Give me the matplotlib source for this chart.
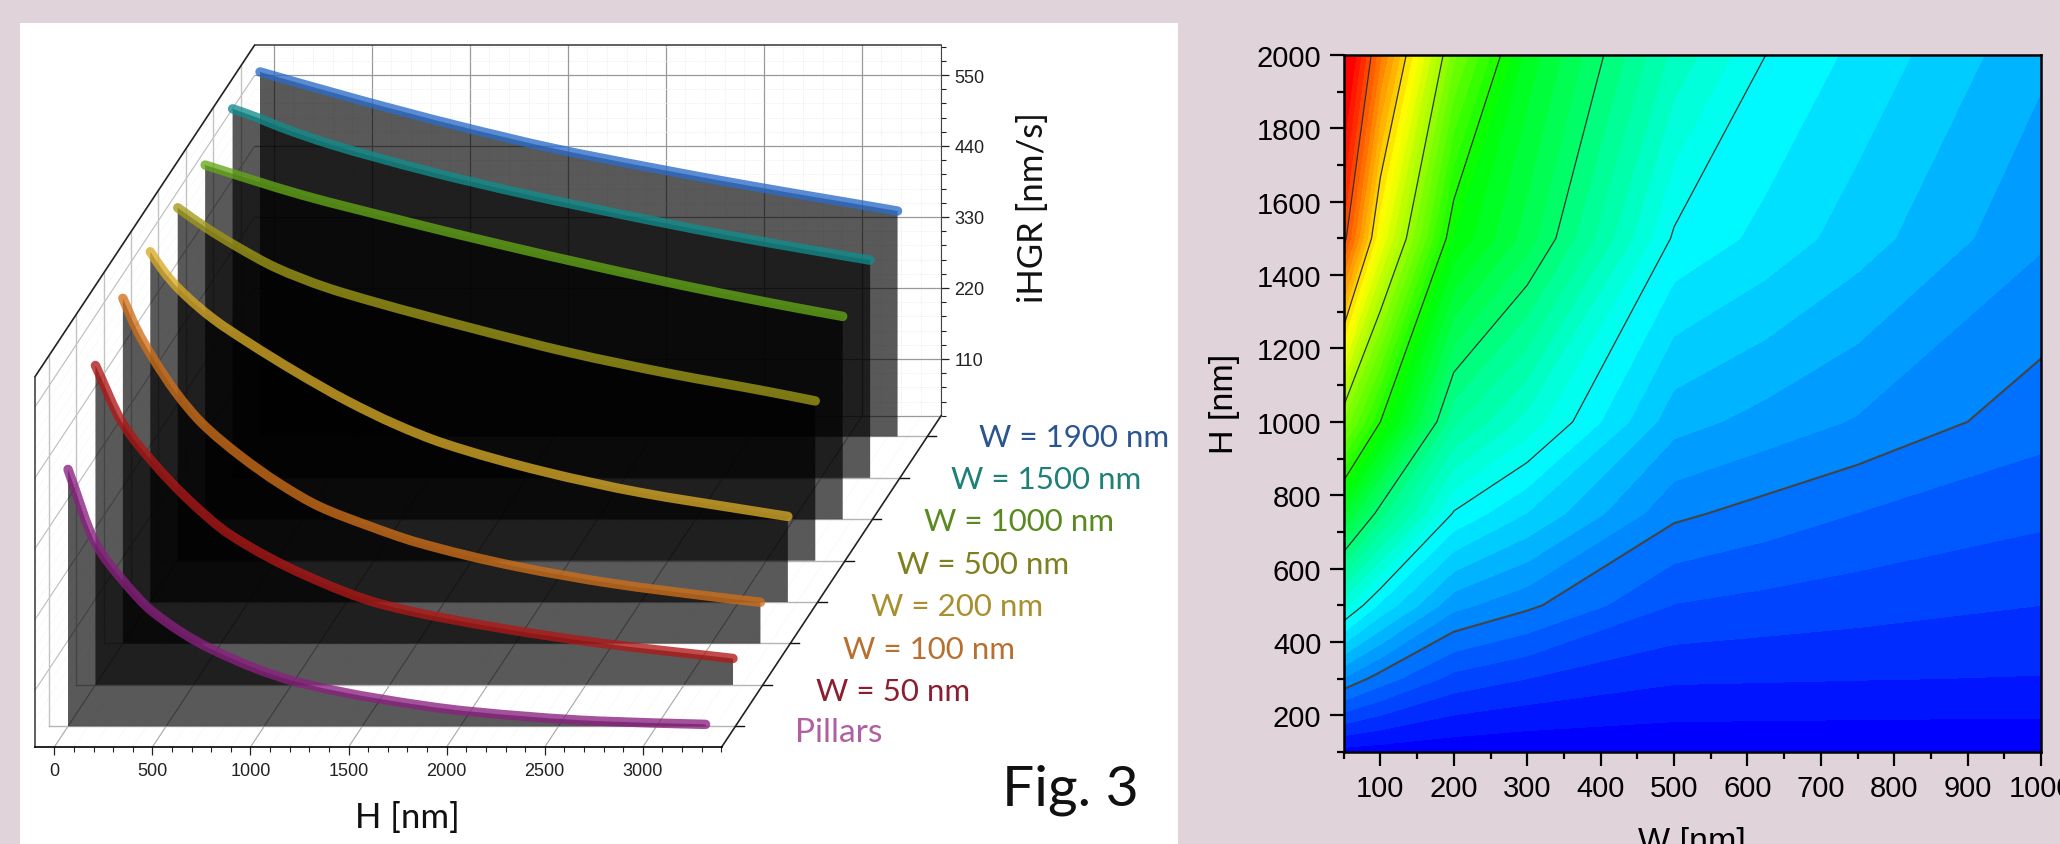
#!/usr/bin/python3
import numpy as np
import matplotlib
matplotlib.use("Agg")
import matplotlib.pyplot as plt
from matplotlib.colors import LinearSegmentedColormap
from matplotlib.patches import Rectangle, PathPatch
from matplotlib.path import Path
from matplotlib.ticker import MultipleLocator, FixedLocator

FIG_W = 2060
FIG_H = 845

# left panel, front series first
names = ["Pillars", "W = 50 nm", "W = 100 nm", "W = 200 nm", "W = 500 nm", "W = 1000 nm", "W = 1500 nm", "W = 1900 nm"]
pillars_h = [0, 139, 275, 431, 724, 1153, 1601, 2050, 2710, 3250]
pillars_v = [421, 307, 250, 200, 143, 92, 64, 45, 30, 25]
w50_h = [0, 137, 292, 480, 683, 1072, 1463, 2048, 2570, 3250]
w50_v = [518, 429, 368, 308, 256, 192, 147, 111, 87, 63]
w100_h = [0, 70, 150, 270, 400, 600, 800, 1000, 1250, 1500, 2000, 2500, 3000, 3250]
w100_v = [558, 510, 467, 412, 365, 313, 270, 235, 205, 179, 142, 115, 95, 86]
w200_h = [0, 70, 150, 320, 500, 750, 1000, 1250, 1500, 2000, 2500, 3000, 3250]
w200_v = [566, 535, 507, 462, 425, 378, 335, 298, 268, 225, 192, 167, 155]
w500_h = [0, 145, 300, 500, 750, 1000, 1500, 2000, 2500, 3000, 3250]
w500_v = [570, 539, 510, 477, 447, 424, 383, 345, 313, 285, 270]
w1000_h = [0, 250, 500, 1000, 1500, 2000, 2500, 3000, 3250]
w1000_v = [572, 548, 525, 486, 449, 414, 381, 351, 337]
w1500_h = [0, 120, 250, 500, 1000, 1500, 2000, 2500, 3000, 3250]
w1500_v = [595, 582, 566, 540, 498, 462, 430, 400, 373, 360]
w1900_h = [0, 500, 1000, 1500, 2000, 2500, 3000, 3250]
w1900_v = [588, 545, 505, 469, 439, 411, 385, 372]
series_h = [pillars_h, w50_h, w100_h, w200_h, w500_h, w1000_h, w1500_h, w1900_h]
series_v = [pillars_v, w50_v, w100_v, w200_v, w500_v, w1000_v, w1500_v, w1900_v]
line_colors = ["#8a2080", "#b01818", "#d0701a", "#d8aa28", "#a09a18", "#64a818", "#128c8c", "#2a6cc8"]
text_colors = ["#b060a0", "#8a1f2f", "#b87030", "#a89030", "#7f7f1f", "#5a8a1f", "#1f8078", "#2a5590"]

h_ticks = [0, 500, 1000, 1500, 2000, 2500, 3000]
v_ticks = [110, 220, 330, 440, 550]

# right panel
w_grid = [50, 100, 200, 300, 500, 625, 750, 1000]
h_grid = [100, 300, 500, 750, 1000, 1500, 2000]
z_grid = [
	[0.10, 0.08, 0.05, 0.03, 0.03, 0.03, 0.03, 0.03],
	[1.15, 0.92, 0.61, 0.50, 0.36, 0.35, 0.34, 0.325],
	[2.23, 1.80, 1.22, 1.04, 0.66, 0.61, 0.57, 0.50],
	[3.55, 2.90, 1.98, 1.66, 1.04, 0.93, 0.83, 0.707],
	[4.80, 4.00, 2.70, 2.27, 1.40, 1.27, 1.15, 0.90],
	[7.10, 5.65, 3.81, 3.25, 1.97, 1.78, 1.58, 1.19],
	[7.90, 6.70, 4.71, 3.60, 2.45, 2.00, 1.79, 1.37],
]
line_levels = [1, 2, 3, 4, 5, 6, 7]
rainbow = ["#0000ff", "#00ffff", "#00ff00", "#ffff00", "#ff0000"]


def axRect(left, top, right, bottom):
	return [left / FIG_W, 1 - bottom / FIG_H, (right - left) / FIG_W, (bottom - top) / FIG_H]


def putText(x, y, s, **kw):
	return fig.text(x / FIG_W, 1 - y / FIG_H, s, va="center", **kw)


def smoothVerts(x, y):
	""" bezier through the read points, monotone tangents so nothing overshoots """
	dx = np.diff(x)
	slope = np.diff(y) / dx
	tan = np.zeros(len(x))
	tan[0] = slope[0]
	tan[-1] = slope[-1]
	for k in range(1, len(x) - 1):
		tan[k] = 2 * slope[k - 1] * slope[k] / (slope[k - 1] + slope[k])
	verts = [(x[0], y[0])]
	codes = [Path.MOVETO]
	for k in range(len(dx)):
		verts.append((x[k] + dx[k] / 3, y[k] + tan[k] * dx[k] / 3))
		verts.append((x[k + 1] - dx[k] / 3, y[k + 1] - tan[k + 1] * dx[k] / 3))
		verts.append((x[k + 1], y[k + 1]))
		codes += [Path.CURVE4] * 3
	return verts, codes


fig = plt.figure(figsize=(FIG_W / 100, FIG_H / 100), dpi=100, facecolor="#e1d3da")
fig.patches.append(Rectangle((20 / FIG_W, 0), 1158 / FIG_W, 1 - 24 / FIG_H, transform=fig.transFigure, facecolor="white", edgecolor="none", zorder=-1))

# oblique box: the back wall has its own axes, same limits as the front one
h_lim = (-98.4, 3402)
v_lim = (22, 597)
depth_h = 139.8
depth_v = 64.3
n_depth = 8

back = fig.add_axes(axRect(254.5, 45.7, 940.6, 416.7))
back.set_xlim(h_lim)
back.set_ylim(v_lim)
back.patch.set_alpha(0)
for s in ["left", "bottom"]:
	back.spines[s].set_visible(False)
back.spines["top"].set_color("#444444")
back.spines["top"].set_linewidth(1.2)
back.spines["right"].set_color("#444444")
back.xaxis.set_major_locator(FixedLocator(h_ticks))
back.xaxis.set_minor_locator(MultipleLocator(100))
back.yaxis.set_major_locator(FixedLocator(v_ticks))
back.yaxis.set_minor_locator(MultipleLocator(22))
back.yaxis.tick_right()
back.tick_params(axis="x", which="both", length=0, labelbottom=False)
back.tick_params(axis="y", which="major", length=6, width=0.9, pad=4, labelsize=13, labelfontfamily="Liberation Sans", colors="#222222")
back.tick_params(axis="y", which="minor", length=3.5, width=0.8, colors="#222222")
back.grid(which="minor", color="#e6e6e6", lw=0.6, ls=":")
back.grid(which="major", color="#999999", lw=0.9)
back.set_axisbelow(True)

ax = fig.add_axes(axRect(35, 377.7, 721.7, 748))
ax.set_xlim(h_lim)
ax.set_ylim(v_lim)
ax.patch.set_alpha(0)
for s in ["top", "right"]:
	ax.spines[s].set_visible(False)
ax.spines["left"].set_color("#444444")
ax.spines["left"].set_linewidth(1.2)
ax.spines["bottom"].set_linewidth(1.2)
ax.xaxis.set_major_locator(FixedLocator(h_ticks))
ax.xaxis.set_minor_locator(MultipleLocator(100))
ax.set_yticks([])
ax.tick_params(axis="x", which="major", length=6, width=0.9, pad=5, labelsize=13, labelfontfamily="Liberation Sans", colors="#222222")
ax.tick_params(axis="x", which="minor", length=3.5, width=0.8, colors="#222222")

h0, h1 = h_lim
v0, v1 = v_lim
dh = n_depth * depth_h
dv = n_depth * depth_v

# floor and left wall guides
for h in np.arange(0, 3400, 100):
	ax.plot([h, h + dh], [v0, v0 + dv], color="#eeeeee", lw=0.6, ls=":", clip_on=False, zorder=1)
for h in h_ticks:
	ax.plot([h, h + dh], [v0, v0 + dv], color="#a8a8a8", lw=0.8, clip_on=False, zorder=1.1)
for v in np.arange(44, 597, 22):
	ax.plot([h0, h0 + dh], [v, v + dv], color="#eeeeee", lw=0.6, ls=":", clip_on=False, zorder=1)
for v in v_ticks:
	ax.plot([h0, h0 + dh], [v, v + dv], color="#bdbdbd", lw=0.8, clip_on=False, zorder=1.1)
for i in range(n_depth):
	d = i + 0.5
	ax.plot([h0 + d * depth_h] * 2, [v0 + d * depth_v, v1 + d * depth_v], color="#c4c4c4", lw=1, clip_on=False, zorder=1.1)
	ax.plot([h0 + d * depth_h, h1 + d * depth_h], [v0 + d * depth_v] * 2, color="#b4b4b4", lw=1, clip_on=False, zorder=1.1)
	ax.plot([h1 + d * depth_h, h1 + d * depth_h + 45], [v0 + d * depth_v] * 2, color="#111111", lw=1, clip_on=False, zorder=1.2)
ax.plot([h0, h0 + dh], [v1, v1 + dv], color="#222222", lw=1.2, clip_on=False, zorder=1.3)
ax.plot([h1, h1 + dh], [v0, v0 + dv], color="#222222", lw=1.2, clip_on=False, zorder=1.3)
ax.plot([h0 + dh, h1 + dh], [v0 + dv, v0 + dv], color="#999999", lw=0.9, clip_on=False, zorder=1.1)

# curtains, back to front, the curves on top of all of them
for i in range(n_depth - 1, -1, -1):
	d = i + 0.5
	x = np.array(series_h[i], dtype=float) + d * depth_h
	y = np.array(series_v[i], dtype=float) + d * depth_v
	verts, codes = smoothVerts(x, y)
	base = v0 + d * depth_v
	fill_path = Path(verts + [(x[-1], base), (x[0], base), (x[0], y[0])], codes + [Path.LINETO] * 3)
	ax.add_patch(PathPatch(fill_path, facecolor="black", edgecolor="none", alpha=0.65, clip_on=False, zorder=2))
	ax.add_patch(PathPatch(Path(verts, codes), fill=False, edgecolor=line_colors[i], lw=6.8, alpha=0.78, capstyle="round", joinstyle="round", clip_on=False, zorder=3 + 0.01 * (n_depth - i)))

putText(407, 818, "H [nm]", ha="center", family="Lato", fontsize=25, color="#111111")
putText(1033, 207.5, "iHGR [nm/s]", ha="center", rotation=90, family="Lato", fontsize=25, color="#111111")
putText(1070, 790, "Fig. 3", ha="center", family="Lato", fontsize=41, color="#111111")
label_right = [882, 970, 1015, 1043, 1069, 1114, 1141, 1169]
label_y = [733, 692, 650, 607, 565, 522, 480, 438]
for i in range(n_depth):
	putText(label_right[i], label_y[i], names[i], ha="right", family="Lato", fontsize=22.5 if i else 24, color=text_colors[i])

# contour map
cax = fig.add_axes(axRect(1343.7, 56, 2041, 753))
cmap = LinearSegmentedColormap.from_list("rainbow_up", rainbow)
band_levels = np.arange(0, 8.01, 1 / 6)
cax.contourf(w_grid, h_grid, z_grid, levels=band_levels, cmap=cmap, vmin=1 / 12, vmax=7.6)
cax.contour(w_grid, h_grid, z_grid, levels=line_levels[1:], colors="#333333", linewidths=0.9)
cax.contour(w_grid, h_grid, z_grid, levels=line_levels[:1], colors="#444444", linewidths=1.5)
cax.set_xlim(50, 1000)
cax.set_ylim(100, 2000)
cax.set_xticks(np.arange(100, 1001, 100))
cax.set_yticks(np.arange(200, 2001, 200))
cax.xaxis.set_minor_locator(MultipleLocator(50))
cax.yaxis.set_minor_locator(MultipleLocator(100))
cax.tick_params(which="major", length=10, width=1.6, pad=6, labelsize=21, labelfontfamily="Liberation Sans")
cax.tick_params(which="minor", length=5, width=1.6)
for s in cax.spines.values():
	s.set_linewidth(1.8)
putText(1225, 404, "H [nm]", ha="center", rotation=90, family="Liberation Sans", fontsize=24.5)
putText(1692, 843, "W [nm]", ha="center", family="Liberation Sans", fontsize=24.5)

plt.savefig("out.png", dpi=100, facecolor=fig.get_facecolor())
plt.close()
